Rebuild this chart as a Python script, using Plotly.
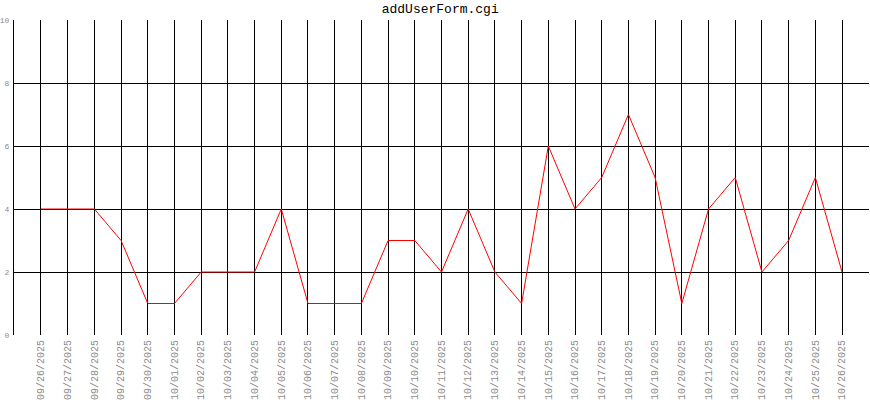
import plotly.graph_objects as go

dates = ["09/26/2025","09/27/2025","09/28/2025","09/29/2025","09/30/2025","10/01/2025",
         "10/02/2025","10/03/2025","10/04/2025","10/05/2025","10/06/2025","10/07/2025",
         "10/08/2025","10/09/2025","10/10/2025","10/11/2025","10/12/2025","10/13/2025",
         "10/14/2025","10/15/2025","10/16/2025","10/17/2025","10/18/2025","10/19/2025",
         "10/20/2025","10/21/2025","10/22/2025","10/23/2025","10/24/2025","10/25/2025",
         "10/26/2025"]
values = [4,4,4,3,1,1,2,2,2,4,1,1,1,3,3,2,4,2,1,6,4,5,7,5,1,4,5,2,3,5,2]
y_ticks = [0,2,4,6,8,10]

xs = list(range(len(dates)))
fig = go.Figure()
fig.add_trace(go.Scatter(x=xs, y=values, mode="lines",
                         line=dict(color="#ff0000", width=1), showlegend=False))
fig.update_layout(
    width=870, height=400,
    margin=dict(l=14, r=1, t=20, b=65, autoexpand=False),
    paper_bgcolor="white", plot_bgcolor="white",
    font=dict(family="Liberation Mono", color="#8c8c8c", size=10),
    title=dict(text="addUserForm.cgi", x=0.506, xanchor="center", y=0.978, yanchor="middle",
               font=dict(family="Liberation Mono", size=13, color="black")),
)
fig.update_xaxes(range=[-1.01, 31.01], tickmode="array", tickvals=xs, ticktext=dates,
                 tickangle=-90, showgrid=True, gridcolor="black", gridwidth=1,
                 showline=False, zeroline=False, ticks="", fixedrange=True,
                 automargin=False, ticklabelstandoff=2)
fig.update_yaxes(range=[0, 10], tickmode="array", tickvals=y_ticks,
                 showgrid=True, gridcolor="black", gridwidth=1,
                 showline=True, linecolor="black", linewidth=1, zeroline=False, ticks="",
                 tickfont=dict(size=8), ticklabelstandoff=2, automargin=False, fixedrange=True)
fig.write_html("out.html", config={"displayModeBar": False},
               post_script="document.body.style.margin='0';")
